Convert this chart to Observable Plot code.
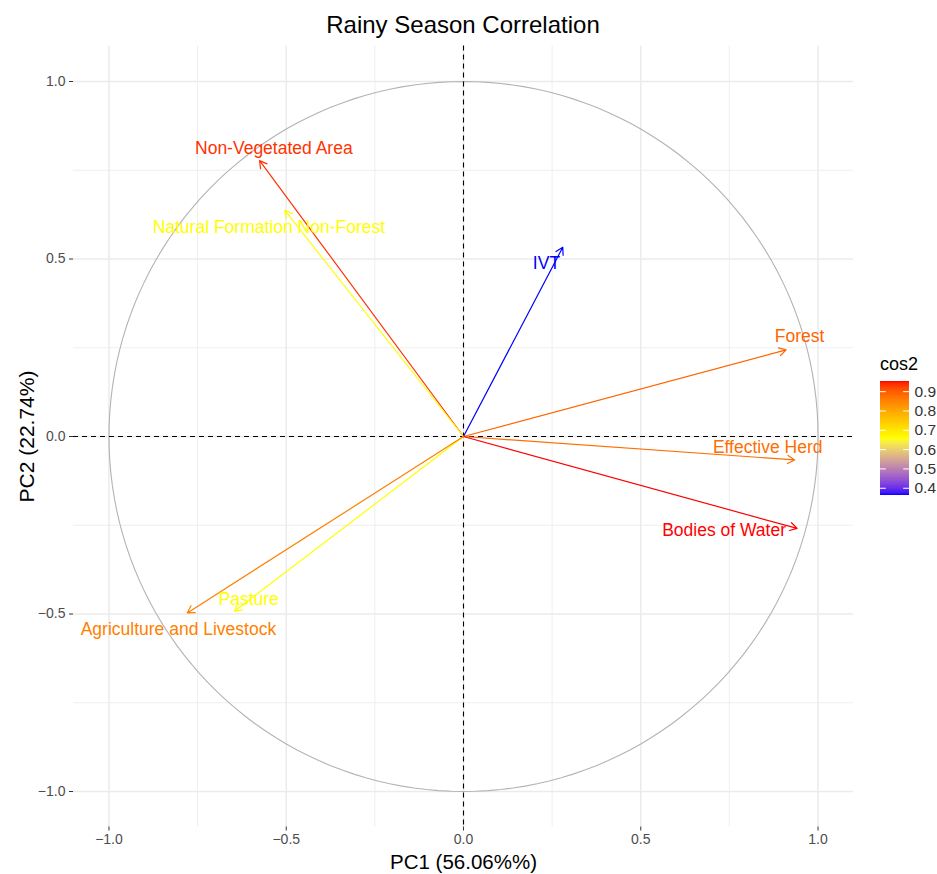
<!DOCTYPE html>
<html><head><meta charset="utf-8">
<script src="https://cdn.jsdelivr.net/npm/d3@7"></script>
<script src="https://cdn.jsdelivr.net/npm/@observablehq/plot@0.6"></script>
<style>
body{margin:0;background:#fff;font-family:"Liberation Sans",Arial,sans-serif;}
#wrap{position:relative;width:937px;height:874px;overflow:hidden;}
#wrap svg{position:absolute;}
#title{position:absolute;left:0;top:0;width:926px;text-align:center;font-size:24px;line-height:50px;color:#000;z-index:2;}
#legtitle{position:absolute;left:880px;top:354px;font-size:18px;color:#000;z-index:2;}
</style></head><body>
<div id="wrap"><div id="title">Rainy Season Correlation</div><div id="legtitle">cos2</div></div>
<script>
// variables and their coordinates on PC1 / PC2
const variables = ["Non-Vegetated Area","Natural Formation Non-Forest","IVT","Forest","Effective Herd","Bodies of Water","Pasture","Agriculture and Livestock"];
const pc1 = [-0.575,-0.504,0.280,0.910,0.934,0.941,-0.646,-0.779];
const pc2 = [0.777,0.637,0.533,0.244,-0.066,-0.259,-0.492,-0.497];
// label anchors (data units)
const labelX = [-0.535,-0.549,0.234,0.948,0.858,0.735,-0.606,-0.804];
const labelY = [0.811,0.589,0.487,0.281,-0.031,-0.264,-0.459,-0.543];
const majorTicks = [-1,-0.5,0,0.5,1];
const minorTicks = [-0.75,-0.25,0.25,0.75];
const legendTicks = [0.4,0.5,0.6,0.7,0.8,0.9];
const colorStops = ["blue","yellow","red"];

const data = variables.map((name,i)=>({name, x:pc1[i], y:pc2[i], lx:labelX[i], ly:labelY[i], cos2: pc1[i]*pc1[i]+pc2[i]*pc2[i]}));
const [cmin,cmax] = d3.extent(data, d=>d.cos2);
const colorScale = {type:"linear", domain:[cmin,(cmin+cmax)/2,cmax], range:colorStops, interpolate:"lab"};
const circle = d3.range(0,361,2).map(a=>({x:Math.cos(a*Math.PI/180), y:Math.sin(a*Math.PI/180)}));
const fmt = d3.format(".1f");
const font = "Liberation Sans, Arial, sans-serif";

const chart = Plot.plot({
  width:937, height:874,
  marginTop:45.5, marginBottom:47.5, marginLeft:73, marginRight:84,
  style:{fontFamily:font, fontSize:"14px", color:"#4d4d4d", background:"transparent"},
  x:{domain:[-1.1,1.1]},
  y:{domain:[-1.1,1.1]},
  color:colorScale,
  marks:[
    Plot.gridX(minorTicks,{stroke:"#ebebeb", strokeOpacity:1, strokeWidth:0.8}),
    Plot.gridY(minorTicks,{stroke:"#ebebeb", strokeOpacity:1, strokeWidth:0.8}),
    Plot.gridX(majorTicks,{stroke:"#ebebeb", strokeOpacity:1, strokeWidth:1.5}),
    Plot.gridY(majorTicks,{stroke:"#ebebeb", strokeOpacity:1, strokeWidth:1.5}),
    Plot.axisX(majorTicks,{tickFormat:fmt, tickSize:4, tickPadding:3, label:null, stroke:"#333"}),
    Plot.axisY(majorTicks,{tickFormat:fmt, tickSize:4, tickPadding:4, label:null, stroke:"#333"}),
    Plot.line(circle,{x:"x", y:"y", stroke:"#b3b3b3", strokeWidth:1.1}),
    Plot.ruleX([0],{stroke:"#000", strokeDasharray:"5,4", strokeWidth:1.1}),
    Plot.ruleY([0],{stroke:"#000", strokeDasharray:"5,4", strokeWidth:1.1}),
    Plot.arrow(data,{x1:()=>0, y1:()=>0, x2:"x", y2:"y", stroke:"cos2", strokeWidth:1.2, headLength:10, headAngle:60}),
    Plot.text(data,{x:"lx", y:"ly", text:"name", fill:"cos2", fontSize:17.5}),
    Plot.text(["PC1 (56.06%%)"],{frameAnchor:"bottom", dy:42, fontSize:20.5, fill:"#000"}),
    Plot.text(["PC2 (22.74%)"],{frameAnchor:"left", textAnchor:"middle", dx:-46, rotate:-90, fontSize:21, fill:"#000"})
  ]
});
chart.style.left="0px"; chart.style.top="0px";
document.getElementById("wrap").appendChild(chart);

// colour bar legend
const bands = d3.range(200).map(i=>({a:cmin+(cmax-cmin)*i/200, b:cmin+(cmax-cmin)*(i+1)/200}));
const legend = Plot.plot({
  width:67, height:134, marginTop:10, marginBottom:10, marginLeft:10, marginRight:28,
  style:{fontFamily:font, fontSize:"15.5px", color:"#333", background:"transparent"},
  x:{domain:[0,1], axis:null},
  y:{domain:[cmin,cmax]},
  color:colorScale,
  marks:[
    Plot.rect(bands,{x1:()=>0, x2:()=>1, y1:"a", y2:"b", fill:d=>(d.a+d.b)/2, shapeRendering:"crispEdges"}),
    Plot.ruleY(legendTicks,{x1:()=>0, x2:()=>0.2, stroke:"white", strokeWidth:1}),
    Plot.ruleY(legendTicks,{x1:()=>0.8, x2:()=>1, stroke:"white", strokeWidth:1}),
    Plot.axisY(legendTicks,{anchor:"right", tickFormat:fmt, tickSize:0, tickPadding:5, label:null})
  ]
});
legend.style.left="870px"; legend.style.top="370.7px";
document.getElementById("wrap").appendChild(legend);
</script>
</body></html>
